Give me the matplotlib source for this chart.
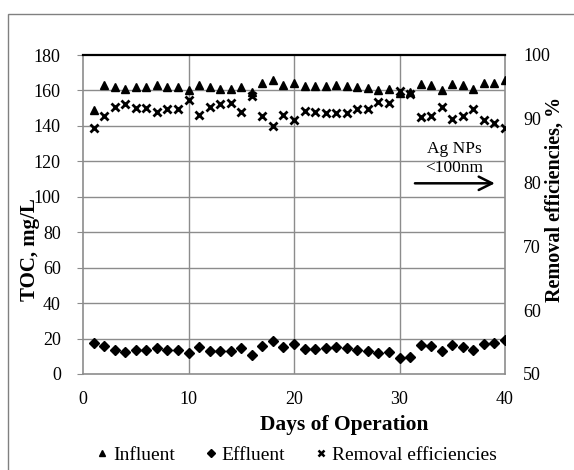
import matplotlib
matplotlib.use("Agg")
import matplotlib.pyplot as plt
from matplotlib.lines import Line2D
from matplotlib.patches import Rectangle

plt.rcParams['font.family'] = ['Liberation Serif', 'DejaVu Serif']

days = list(range(1, 41))
influent = [149, 163, 162, 161, 162, 162, 163, 162, 162, 160,
            163, 162, 161, 161, 162, 159, 164, 166, 163, 164,
            162.7, 162.7, 162.7, 163, 162.7, 162, 161.5, 160, 160.7, 158.5,
            159, 163.7, 163, 160, 163.7, 163, 161, 164, 164.4, 166]
effluent = [17.3, 15.9, 13.5, 12.6, 13.5, 13.5, 14.4, 13.5, 13.5, 11.6,
            15.4, 12.7, 12.7, 12.7, 14.4, 10.7, 15.9, 18.4, 15.0, 17.0,
            14.0, 14.0, 14.6, 15.0, 14.6, 13.5, 13.1, 11.6, 12.6, 8.8,
            9.4, 16.3, 15.7, 12.8, 16.5, 15.4, 13.5, 16.9, 17.4, 19.1]
removal = [88.5, 90.5, 91.8, 92.3, 91.7, 91.7, 91.0, 91.5, 91.5, 93.0,
           90.6, 91.9, 92.3, 92.4, 91.1, 93.5, 90.4, 88.9, 90.6, 89.8,
           91.3, 91.1, 90.9, 90.9, 90.9, 91.6, 91.6, 92.7, 92.4, 94.3,
           93.9, 90.3, 90.4, 91.8, 89.9, 90.5, 91.5, 89.8, 89.3, 88.5]

left_ticks = [0, 20, 40, 60, 80, 100, 120, 140, 160, 180]
right_ticks = [50, 60, 70, 80, 90, 100]
x_ticks = [0, 10, 20, 30, 40]

W, H = 574, 470
fig = plt.figure(figsize=(W / 100, H / 100), dpi=100)
fig.patches.append(Rectangle((8 / W, -0.1), 1.2, (H - 14) / H + 0.1,
                             transform=fig.transFigure, fill=False,
                             edgecolor='#808080', linewidth=1.0))

ax = fig.add_axes([83 / W, (H - 374) / H, (505 - 83) / W, (374 - 55) / H])
grid_c = '#8c8c8c'
ax.set_xlim(0, 40)
ax.set_ylim(0, 180)
ax.set_xticks(x_ticks)
ax.set_yticks(left_ticks)
for v in left_ticks[1:-1]:
    ax.axhline(v, color=grid_c, lw=1.0, zorder=0)
for v in x_ticks[1:-1]:
    ax.axvline(v, color=grid_c, lw=1.0, zorder=0)
for s in ['left', 'bottom', 'right']:
    ax.spines[s].set_color(grid_c)
    ax.spines[s].set_linewidth(1.2)
ax.spines['top'].set_color('black')
ax.spines['top'].set_linewidth(1.6)
ax.tick_params(axis='y', direction='out', length=4, color=grid_c, labelsize=13, pad=12)
ax.tick_params(axis='x', length=0, labelsize=13, pad=12)

ax.plot(days, influent, linestyle='none', marker='^', color='black', markersize=6, zorder=3)
ax.plot(days, effluent, linestyle='none', marker='D', color='black', markersize=4.8, zorder=3)

ax2 = ax.twinx()
ax2.set_ylim(50, 100)
ax2.set_yticks(right_ticks)
ax2.tick_params(axis='y', length=0, labelsize=13, pad=13)
for s in ax2.spines.values():
    s.set_visible(False)
ax2.plot(days, removal, linestyle='none', marker='x', color='black', markersize=6,
         markeredgewidth=2.0, zorder=4)

fig.text(344 / W, 1 - 425 / H, 'Days of Operation', ha='center', va='center',
         fontsize=15.5, fontweight='bold')
fig.text(30 / W, 1 - 250 / H, 'TOC, mg/L', ha='center', va='center', rotation=90,
         fontsize=15, fontweight='bold')
fig.text(555 / W, 1 - 199 / H, 'Removal efficiencies, %', ha='center', va='center',
         rotation=90, fontsize=14.5, fontweight='bold')

ax.text(35.2, 127, 'Ag NPs', ha='center', va='center', fontsize=12.5, zorder=5)
ax.text(35.2, 116, '<100nm', ha='center', va='center', fontsize=12.5, zorder=5)
ax.annotate('', xy=(39.3, 107.6), xytext=(31.2, 107.6),
            arrowprops=dict(arrowstyle='->', color='black', lw=1.8, mutation_scale=24), zorder=5)

handles = [Line2D([], [], linestyle='none', marker='^', color='black', markersize=5),
           Line2D([], [], linestyle='none', marker='D', color='black', markersize=4),
           Line2D([], [], linestyle='none', marker='x', color='black', markersize=5, markeredgewidth=1.8)]
fig.legend(handles, ['Influent', 'Effluent', 'Removal efficiencies'], loc='center',
           bbox_to_anchor=(297 / W, 1 - 455 / H), ncol=3, frameon=False, fontsize=14,
           handlelength=0.5, handletextpad=0.3, columnspacing=1.6,
           borderpad=0, borderaxespad=0)

fig.savefig('out.png', dpi=100)
